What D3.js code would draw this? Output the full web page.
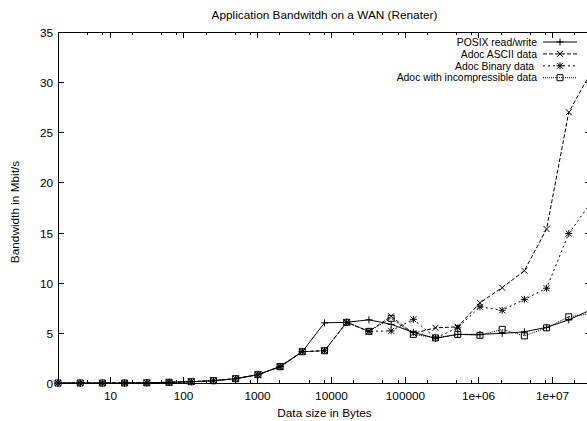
<!DOCTYPE html>
<html><head><meta charset="utf-8">
<script src="https://cdn.jsdelivr.net/npm/d3@7"></script>
<style>body{margin:0;background:#fff}svg{display:block}text{font-family:"Liberation Sans",Arial,sans-serif;fill:#000;font-size:11.8px;white-space:pre}text.leg{font-size:10.4px}</style>
</head><body><svg id="c" width="587" height="421"></svg>
<script>
const title = "Application Bandwitdh on a WAN (Renater)";
const xLabel = "Data size in Bytes";
const yLabel = "Bandwidth in Mbit/s";
const sizes = [2,4,8,16,32,64,128,256,512,1024,2048,4096,8192,16384,32768,65536,131072,262144,524288,1048576,2097152,4194304,8388608,16777216,33554432];
const posix  = [0,0,0,0,0.02,0.07,0.13,0.23,0.43,0.83,1.63,3.12,6.0,6.05,6.3,5.85,5.05,4.45,4.85,4.85,4.95,5.1,5.55,6.3,7.3];
const ascii  = [0,0,0,0,0.02,0.07,0.13,0.23,0.43,0.83,1.63,3.12,3.22,6.05,5.15,6.65,4.95,5.5,5.6,8.0,9.5,11.2,15.35,27.0,31.0];
const binary = [0,0,0,0,0.02,0.07,0.13,0.23,0.43,0.83,1.63,3.12,3.22,6.05,5.15,5.2,6.35,4.5,5.5,7.6,7.25,8.34,9.45,14.9,18.0];
const incomp = [0,0,0,0,0.02,0.07,0.13,0.23,0.43,0.83,1.63,3.12,3.22,6.05,5.15,6.45,4.85,4.5,4.85,4.75,5.35,4.7,5.5,6.6,6.9];
const seriesNames = ["POSIX read/write","Adoc ASCII data","Adoc Binary data ","Adoc with incompressible data"];
const yTicks = [0,5,10,15,20,25,30,35];
const xTicks = [10,100,1000,10000,100000,1000000,10000000];
const xTickLabels = ["10","100","1000","10000","100000","1e+06","1e+07"];
const minorMult = [2,5,8];

const L=58,R=591,T=32,B=383;
const svg=d3.select("#c");
const x=d3.scaleLog().domain([2,33554432]).range([L,R]);
const y=d3.scaleLinear().domain([0,35]).range([B,T]);

svg.append("text").attr("x",(L+R)/2).attr("y",19).attr("text-anchor","middle").text(title);
svg.append("text").attr("x",(L+R)/2).attr("y",417).attr("text-anchor","middle").text(xLabel);
svg.append("text").attr("transform","translate(19,212) rotate(-90)").attr("text-anchor","middle").text(yLabel);

const g=svg.append("g").attr("stroke","#000").attr("stroke-width",1).attr("fill","none");
yTicks.forEach(v=>{
  const yy=Math.round(y(v))+0.5;
  g.append("line").attr("x1",L).attr("x2",L+6).attr("y1",yy).attr("y2",yy);
  g.append("line").attr("x1",R-6).attr("x2",R).attr("y1",yy).attr("y2",yy);
  svg.append("text").attr("x",53).attr("y",yy+4).attr("text-anchor","end").text(v);
});
xTicks.forEach((v,i)=>{
  const xx=Math.round(x(v))+0.5;
  g.append("line").attr("x1",xx).attr("x2",xx).attr("y1",B).attr("y2",B-6);
  g.append("line").attr("x1",xx).attr("x2",xx).attr("y1",T).attr("y2",T+6);
  svg.append("text").attr("x",xx).attr("y",400).attr("text-anchor","middle").text(xTickLabels[i]);
});
[1,10,100,1000,10000,100000,1000000,10000000].forEach(d=>{
  minorMult.forEach(m=>{
    const v=d*m; if(v<=2||v>=33554432) return;
    const xx=Math.round(x(v))+0.5;
    g.append("line").attr("x1",xx).attr("x2",xx).attr("y1",B).attr("y2",B-3);
    g.append("line").attr("x1",xx).attr("x2",xx).attr("y1",T).attr("y2",T+3);
  });
});
g.append("rect").attr("x",L+0.5).attr("y",T+0.5).attr("width",R-L).attr("height",B-T);

const markers={
  plus:"M-3.5,0H3.5M0,-3.5V3.5",
  cross:"M-3,-3L3,3M-3,3L3,-3",
  star:"M-3.5,0H3.5M0,-3.5V3.5M-3,-3L3,3M-3,3L3,-3",
  square:"M-3,-3H3V3H-3Z"
};
const series=[
  {vals:posix,dash:null,m:"plus"},
  {vals:ascii,dash:"4,2",m:"cross"},
  {vals:binary,dash:"2,3",m:"star"},
  {vals:incomp,dash:"1,1",m:"square"}
];
const line=d3.line().x((d,i)=>x(sizes[i])).y(d=>y(d));
series.forEach((s,k)=>{
  const p=g.append("path").attr("d",line(s.vals));
  if(s.dash) p.attr("stroke-dasharray",s.dash);
  s.vals.forEach((v,i)=>{
    g.append("path").attr("d",markers[s.m]).attr("transform",`translate(${x(sizes[i])},${y(v)})`);
  });
  const ly=42+k*11.9;
  const lp=g.append("line").attr("x1",543).attr("x2",577).attr("y1",ly).attr("y2",ly);
  if(s.dash) lp.attr("stroke-dasharray",s.dash);
  g.append("path").attr("d",markers[s.m]).attr("transform",`translate(560,${ly})`);
  svg.append("text").attr("class","leg").attr("x",537).attr("y",ly+3.7).attr("text-anchor","end").text(seriesNames[k]);
});
</script></body></html>
